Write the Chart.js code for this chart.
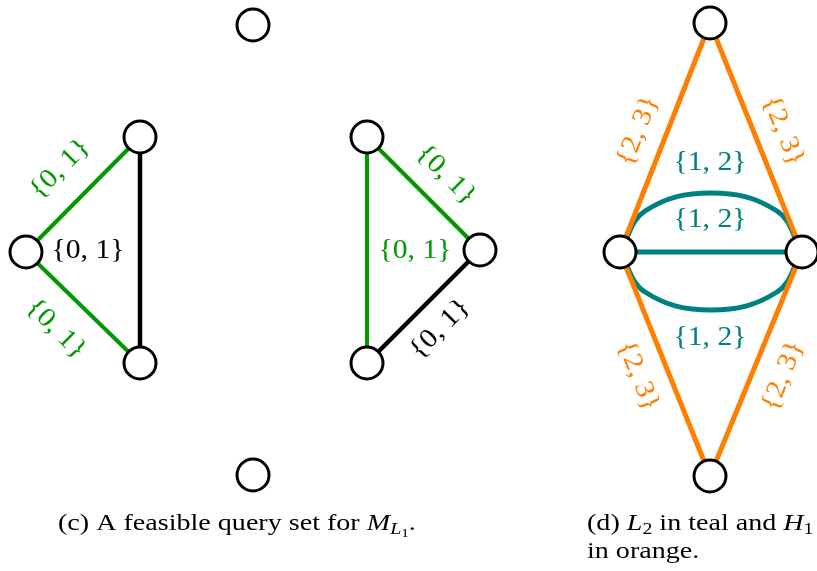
<!DOCTYPE html>
<html><head><meta charset="utf-8">
<script src="https://cdn.jsdelivr.net/npm/chart.js@4.4.1/dist/chart.umd.min.js"></script>
<style>html,body{margin:0;padding:0;background:#fff}#wrap{width:817px;height:571px}</style>
</head><body><div id="wrap"><canvas id="c" width="817" height="571"></canvas></div>
<script>
// Nodes (data coordinates of the diagram)
const nodeX = [253, 253, 26, 140, 140, 367, 480, 367, 710, 620, 802, 710];
const nodeY = [25, 475, 252, 137, 363, 137, 250, 363, 23, 252, 252, 476];
// Straight edges: from node, to node, group
const edgeFrom = [2, 2, 3, 5, 5, 6, 8, 8, 9, 9, 11];
const edgeTo   = [3, 4, 4, 7, 6, 7, 9, 10, 10, 11, 10];
const edgeGroup= ['g','g','k','g','g','k','o','o','t','o','o'];
// Curved teal edges (points along each arc)
const arcUpX = [620, 645, 711, 777, 802];
const arcUpY = [252, 211, 193, 211, 252];
const arcDnX = [620, 645, 711, 777, 802];
const arcDnY = [252, 292, 310, 292, 252];
// Edge labels
const labelText = ['{0, 1}','{0, 1}','{0, 1}','{0, 1}','{0, 1}','{0, 1}','{2, 3}','{2, 3}','{2, 3}','{2, 3}','{1, 2}','{1, 2}','{1, 2}'];
const labelX    = [60, 56, 88, 446, 415, 440, 638, 783, 638, 783, 710, 710, 710];
const labelY    = [168, 328, 250, 174, 250, 328, 130, 130, 375, 375, 162, 219, 337];
const labelAngle= [-45, 45, 0, 45, 0, -45, -68, 68, 68, -68, 0, 0, 0];
const labelGroup= ['g','g','k','g','g','k','o','o','o','o','t','t','t'];

const colors = {g: 'rgb(0,153,0)', k: '#000000', o: 'rgb(255,128,0)', t: 'rgb(0,128,128)'};
const widths = {g: 4, k: 4.5, o: 5, t: 5};

const datasets = [];
for (let i = 0; i < edgeFrom.length; i++) {
  const g = edgeGroup[i];
  datasets.push({
    type: 'line', data: [{x: nodeX[edgeFrom[i]], y: nodeY[edgeFrom[i]]}, {x: nodeX[edgeTo[i]], y: nodeY[edgeTo[i]]}],
    borderColor: colors[g], borderWidth: widths[g], pointRadius: 0, fill: false, clip: false, order: 2, borderCapStyle: 'butt'
  });
}
[[arcUpX, arcUpY], [arcDnX, arcDnY]].forEach(([xs, ys]) => {
  datasets.push({
    type: 'line', data: xs.map((x, i) => ({x, y: ys[i]})),
    borderColor: colors.t, borderWidth: widths.t, pointRadius: 0, fill: false, clip: false, order: 2, tension: 0.4
  });
});
datasets.push({
  type: 'scatter', data: nodeX.map((x, i) => ({x, y: nodeY[i]})),
  pointRadius: 16, pointHoverRadius: 16, pointBackgroundColor: '#fff', pointBorderColor: '#000', pointBorderWidth: 3,
  clip: false, order: 1
});

const SERIF = '"Liberation Serif", "DejaVu Serif", serif';
const labelPlugin = {
  id: 'labels',
  afterDatasetsDraw(chart) {
    const ctx = chart.ctx, xs = chart.scales.x, ys = chart.scales.y;
    ctx.save();
    ctx.textAlign = 'center'; ctx.textBaseline = 'middle';
    ctx.font = '27px ' + SERIF;
    for (let i = 0; i < labelText.length; i++) {
      ctx.save();
      ctx.translate(xs.getPixelForValue(labelX[i]), ys.getPixelForValue(labelY[i]) + 1);
      ctx.rotate(labelAngle[i] * Math.PI / 180);
      ctx.scale(1.1, 1);
      ctx.fillStyle = colors[labelGroup[i]];
      ctx.fillText(labelText[i], 0, 0);
      ctx.restore();
    }
    // captions
    ctx.fillStyle = '#000'; ctx.textAlign = 'left'; ctx.textBaseline = 'alphabetic';
    const runs = (x0, y, parts) => {
      ctx.save();
      ctx.translate(x0, y);
      ctx.scale(1.17, 1);
      let x = 0;
      for (const p of parts) {
        ctx.font = (p.i ? 'italic ' : '') + p.s + 'px ' + SERIF;
        ctx.fillText(p.t, x, p.dy || 0);
        x += ctx.measureText(p.t).width;
      }
      ctx.restore();
    };
    runs(58, 530, [{t: '(c) A feasible query set for ', s: 24}, {t: 'M', s: 24, i: 1}, {t: 'L', s: 17, i: 1, dy: 4}, {t: '1', s: 13, dy: 7}, {t: '.', s: 24}]);
    runs(587, 530, [{t: '(d) ', s: 24}, {t: 'L', s: 24, i: 1}, {t: '2', s: 17, dy: 4}, {t: ' in teal and ', s: 24}, {t: 'H', s: 24, i: 1}, {t: '1', s: 17, dy: 4}]);
    runs(587, 558, [{t: 'in orange.', s: 24}]);
    ctx.restore();
  }
};

new Chart(document.getElementById('c'), {
  type: 'scatter',
  data: {datasets},
  options: {
    responsive: false, animation: false,
    layout: {padding: 0, autoPadding: false},
    plugins: {legend: {display: false}, tooltip: {enabled: false}},
    events: [],
    scales: {
      x: {type: 'linear', min: 0, max: 817, display: false},
      y: {type: 'linear', min: 0, max: 571, reverse: true, display: false}
    }
  },
  plugins: [labelPlugin]
});
</script></body></html>
